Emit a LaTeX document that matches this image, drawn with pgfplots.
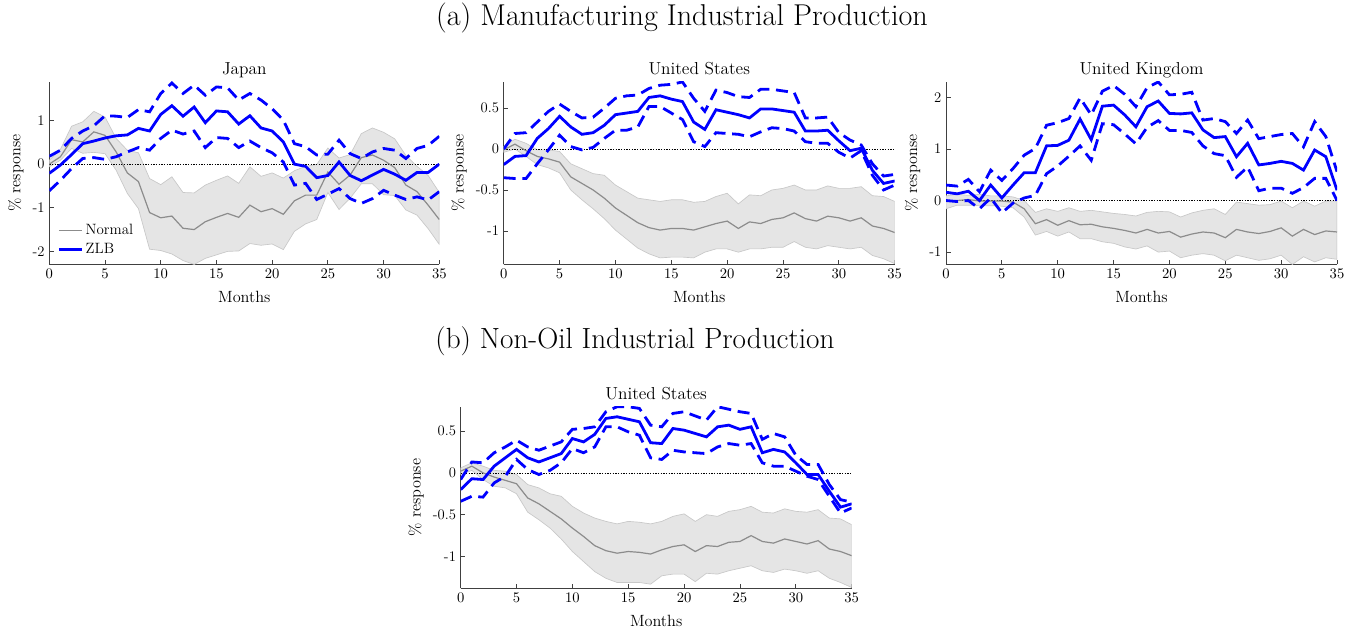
\documentclass[border=0pt]{standalone}
\usepackage{pgfplots}
\usepackage{pgfplotstable}
\pgfplotsset{compat=1.18}

\definecolor{zblue}{RGB}{0,0,255}
\definecolor{normgray}{RGB}{140,140,140}
\definecolor{bandfill}{RGB}{229,229,229}
\definecolor{bandedge}{RGB}{200,200,200}
\definecolor{axgray}{RGB}{64,64,64}

% columns: t, Normal mean, ZLB lower, ZLB mean, ZLB upper
\pgfplotstableread{
t nmid zlo zmid zhi
0 0.00 -0.61 -0.21 0.18
1 0.17 -0.37 -0.02 0.32
2 0.56 -0.10 0.22 0.59
3 0.51 0.13 0.47 0.76
4 0.74 0.15 0.53 0.88
5 0.66 0.11 0.60 1.11
6 0.28 0.17 0.65 1.10
7 -0.20 0.28 0.67 1.07
8 -0.40 0.38 0.82 1.25
9 -1.11 0.32 0.76 1.20
10 -1.23 0.59 1.14 1.62
11 -1.19 0.78 1.34 1.86
12 -1.47 0.69 1.10 1.62
13 -1.50 0.76 1.31 1.81
14 -1.32 0.38 0.95 1.58
15 -1.22 0.61 1.22 1.77
16 -1.13 0.59 1.20 1.75
17 -1.22 0.38 0.92 1.47
18 -0.94 0.53 1.11 1.62
19 -1.09 0.38 0.83 1.47
20 -1.02 0.26 0.76 1.27
21 -1.15 0.05 0.51 1.01
22 -0.84 -0.48 0.00 0.47
23 -0.71 -0.44 -0.05 0.40
24 -0.71 -0.81 -0.31 0.21
25 -0.18 -0.69 -0.26 0.23
26 -0.46 -0.56 0.05 0.55
27 -0.25 -0.79 -0.26 0.24
28 0.15 -0.90 -0.38 0.13
29 0.21 -0.79 -0.25 0.28
30 0.09 -0.60 -0.12 0.36
31 -0.08 -0.71 -0.23 0.32
32 -0.48 -0.81 -0.37 0.13
33 -0.63 -0.75 -0.19 0.36
34 -0.94 -0.82 -0.19 0.43
35 -1.27 -0.63 0.00 0.64
}\japan
% Normal band: upper edge 0..35, then lower edge 35..0
\pgfplotstableread[row sep=\\]{t y\\
0 0.09\\1 0.34\\2 0.87\\3 0.97\\4 1.21\\5 1.08\\6 0.59\\7 0.32\\8 0.26\\9 -0.33\\10 -0.47\\11 -0.29\\12 -0.65\\13 -0.66\\14 -0.48\\15 -0.37\\16 -0.27\\17 -0.44\\18 -0.06\\19 -0.28\\20 -0.20\\21 -0.32\\22 -0.15\\23 -0.05\\24 -0.01\\25 0.37\\26 0.14\\27 0.22\\28 0.70\\29 0.83\\30 0.73\\31 0.58\\32 0.20\\33 -0.05\\34 -0.26\\35 -0.65\\
35 -1.84\\34 -1.48\\33 -1.17\\32 -1.05\\31 -0.72\\30 -0.70\\29 -0.45\\28 -0.45\\27 -0.78\\26 -1.04\\25 -0.65\\24 -1.27\\23 -1.37\\22 -1.54\\21 -1.96\\20 -1.83\\19 -1.86\\18 -1.82\\17 -1.99\\16 -2.00\\15 -2.08\\14 -2.16\\13 -2.30\\12 -2.21\\11 -2.06\\10 -1.98\\9 -1.95\\8 -1.02\\7 -0.67\\6 -0.14\\5 0.24\\4 0.27\\3 0.25\\2 0.36\\1 0.09\\0 -0.06\\
}\japanband

\pgfplotstableread{
t nmid zlo zmid zhi
0 -0.01 -0.35 -0.19 0.00
1 0.06 -0.36 -0.09 0.19
2 -0.02 -0.36 -0.08 0.20
3 -0.09 -0.18 0.13 0.33
4 -0.12 -0.01 0.25 0.46
5 -0.16 0.17 0.40 0.55
6 -0.34 0.03 0.27 0.46
7 -0.42 -0.01 0.18 0.38
8 -0.50 0.02 0.20 0.39
9 -0.60 0.13 0.29 0.50
10 -0.72 0.23 0.42 0.62
11 -0.81 0.23 0.44 0.65
12 -0.90 0.27 0.46 0.66
13 -0.96 0.52 0.63 0.74
14 -0.99 0.52 0.65 0.78
15 -0.97 0.44 0.61 0.79
16 -0.97 0.36 0.58 0.82
17 -0.99 0.09 0.33 0.62
18 -0.95 0.03 0.24 0.46
19 -0.91 0.20 0.48 0.72
20 -0.88 0.19 0.45 0.69
21 -0.97 0.18 0.42 0.64
22 -0.89 0.15 0.38 0.63
23 -0.91 0.21 0.49 0.73
24 -0.86 0.26 0.49 0.73
25 -0.84 0.25 0.47 0.71
26 -0.78 0.22 0.45 0.69
27 -0.85 0.09 0.22 0.38
28 -0.88 0.07 0.22 0.38
29 -0.82 0.07 0.23 0.39
30 -0.84 -0.04 0.10 0.20
31 -0.88 -0.11 -0.02 0.11
32 -0.84 -0.02 0.01 0.05
33 -0.94 -0.32 -0.26 -0.18
34 -0.97 -0.50 -0.42 -0.33
35 -1.02 -0.44 -0.39 -0.31
}\usa
\pgfplotstableread[row sep=\\]{t y\\
0 0.03\\1 0.12\\2 0.07\\3 -0.01\\4 -0.01\\5 -0.03\\6 -0.18\\7 -0.24\\8 -0.30\\9 -0.32\\10 -0.44\\11 -0.52\\12 -0.60\\13 -0.62\\14 -0.64\\15 -0.62\\16 -0.62\\17 -0.65\\18 -0.64\\19 -0.58\\20 -0.54\\21 -0.67\\22 -0.56\\23 -0.57\\24 -0.50\\25 -0.48\\26 -0.44\\27 -0.50\\28 -0.50\\29 -0.45\\30 -0.48\\31 -0.48\\32 -0.46\\33 -0.57\\34 -0.58\\35 -0.64\\
35 -1.40\\34 -1.34\\33 -1.30\\32 -1.20\\31 -1.22\\30 -1.20\\29 -1.18\\28 -1.22\\27 -1.20\\26 -1.13\\25 -1.20\\24 -1.20\\23 -1.22\\22 -1.22\\21 -1.26\\20 -1.22\\19 -1.22\\18 -1.26\\17 -1.33\\16 -1.32\\15 -1.32\\14 -1.33\\13 -1.28\\12 -1.21\\11 -1.10\\10 -0.99\\9 -0.85\\8 -0.73\\7 -0.62\\6 -0.50\\5 -0.29\\4 -0.23\\3 -0.19\\2 -0.09\\1 0.00\\0 -0.04\\
}\usaband

\pgfplotstableread{
t nmid zlo zmid zhi
0 -0.01 0.00 0.16 0.30
1 0.00 -0.02 0.13 0.28
2 0.02 0.00 0.18 0.41
3 -0.01 -0.16 0.00 0.17
4 -0.01 0.05 0.30 0.59
5 -0.01 -0.24 0.05 0.39
6 -0.03 -0.05 0.30 0.62
7 -0.16 0.05 0.54 0.88
8 -0.45 0.10 0.54 1.01
9 -0.37 0.52 1.06 1.46
10 -0.48 0.67 1.07 1.51
11 -0.39 0.86 1.17 1.59
12 -0.47 1.06 1.58 1.99
13 -0.46 0.78 1.18 1.66
14 -0.51 1.49 1.83 2.12
15 -0.54 1.47 1.85 2.23
16 -0.58 1.29 1.66 2.06
17 -0.63 1.10 1.43 1.82
18 -0.56 1.42 1.82 2.19
19 -0.63 1.55 1.93 2.30
20 -0.60 1.36 1.69 2.05
21 -0.71 1.36 1.68 2.06
22 -0.65 1.32 1.70 2.10
23 -0.61 1.06 1.37 1.56
24 -0.63 0.91 1.22 1.59
25 -0.72 0.87 1.24 1.53
26 -0.56 0.45 0.85 1.30
27 -0.61 0.65 1.11 1.56
28 -0.64 0.19 0.69 1.20
29 -0.60 0.24 0.72 1.24
30 -0.53 0.24 0.76 1.28
31 -0.69 0.14 0.72 1.30
32 -0.56 0.25 0.59 1.04
33 -0.66 0.43 0.98 1.53
34 -0.59 0.43 0.85 1.24
35 -0.61 0.00 0.20 0.56
}\uk
\pgfplotstableread[row sep=\\]{t y\\
0 0.09\\1 0.12\\2 0.10\\3 0.12\\4 0.09\\5 0.09\\6 0.07\\7 0.00\\8 -0.23\\9 -0.16\\10 -0.21\\11 -0.14\\12 -0.21\\13 -0.19\\14 -0.22\\15 -0.25\\16 -0.27\\17 -0.30\\18 -0.23\\19 -0.21\\20 -0.22\\21 -0.32\\22 -0.24\\23 -0.19\\24 -0.16\\25 -0.27\\26 -0.03\\27 -0.06\\28 -0.09\\29 -0.08\\30 -0.01\\31 -0.14\\32 -0.01\\33 -0.11\\34 -0.01\\35 -0.01\\
35 -1.14\\34 -1.11\\33 -1.19\\32 -1.09\\31 -1.24\\30 -1.06\\29 -1.13\\28 -1.16\\27 -1.11\\26 -1.06\\25 -1.17\\24 -1.06\\23 -1.03\\22 -1.06\\21 -1.11\\20 -0.98\\19 -1.00\\18 -0.88\\17 -0.94\\16 -0.90\\15 -0.83\\14 -0.80\\13 -0.74\\12 -0.74\\11 -0.61\\10 -0.69\\9 -0.60\\8 -0.67\\7 -0.32\\6 -0.14\\5 -0.11\\4 -0.10\\3 -0.10\\2 -0.09\\1 -0.09\\0 -0.16\\
}\ukband

\pgfplotstableread{
t nmid zlo zmid zhi
0 0.02 -0.34 -0.20 -0.08
1 0.08 -0.28 -0.07 0.13
2 0.00 -0.29 -0.08 0.12
3 -0.05 -0.12 0.08 0.24
4 -0.09 -0.04 0.18 0.31
5 -0.13 0.16 0.28 0.39
6 -0.30 0.04 0.18 0.31
7 -0.37 -0.02 0.13 0.27
8 -0.46 0.03 0.18 0.32
9 -0.55 0.12 0.23 0.37
10 -0.66 0.29 0.41 0.52
11 -0.76 0.24 0.37 0.53
12 -0.87 0.31 0.46 0.55
13 -0.93 0.55 0.65 0.73
14 -0.96 0.55 0.67 0.79
15 -0.94 0.49 0.64 0.79
16 -0.95 0.45 0.61 0.77
17 -0.97 0.18 0.36 0.57
18 -0.92 0.16 0.35 0.55
19 -0.88 0.27 0.53 0.71
20 -0.86 0.25 0.51 0.73
21 -0.94 0.24 0.47 0.68
22 -0.87 0.23 0.43 0.63
23 -0.88 0.31 0.55 0.79
24 -0.83 0.35 0.57 0.76
25 -0.82 0.33 0.52 0.73
26 -0.75 0.35 0.55 0.71
27 -0.82 0.12 0.24 0.40
28 -0.84 0.08 0.28 0.47
29 -0.79 0.08 0.25 0.43
30 -0.82 0.02 0.12 0.21
31 -0.85 -0.04 -0.02 0.10
32 -0.81 -0.08 -0.02 0.10
33 -0.91 -0.28 -0.22 -0.14
34 -0.94 -0.48 -0.41 -0.32
35 -0.99 -0.42 -0.37 -0.35
}\nonoil
\pgfplotstableread[row sep=\\]{t y\\
0 0.06\\1 0.12\\2 0.08\\3 0.03\\4 0.02\\5 -0.02\\6 -0.14\\7 -0.18\\8 -0.25\\9 -0.28\\10 -0.40\\11 -0.48\\12 -0.54\\13 -0.58\\14 -0.61\\15 -0.58\\16 -0.59\\17 -0.61\\18 -0.58\\19 -0.52\\20 -0.49\\21 -0.58\\22 -0.50\\23 -0.52\\24 -0.46\\25 -0.44\\26 -0.40\\27 -0.47\\28 -0.48\\29 -0.43\\30 -0.46\\31 -0.47\\32 -0.44\\33 -0.54\\34 -0.55\\35 -0.62\\
35 -1.37\\34 -1.31\\33 -1.26\\32 -1.17\\31 -1.20\\30 -1.17\\29 -1.15\\28 -1.19\\27 -1.17\\26 -1.11\\25 -1.14\\24 -1.17\\23 -1.21\\22 -1.20\\21 -1.30\\20 -1.21\\19 -1.21\\18 -1.23\\17 -1.33\\16 -1.31\\15 -1.31\\14 -1.31\\13 -1.26\\12 -1.18\\11 -1.06\\10 -0.94\\9 -0.79\\8 -0.66\\7 -0.56\\6 -0.47\\5 -0.25\\4 -0.18\\3 -0.16\\2 -0.08\\1 0.03\\0 -0.02\\
}\nonoilband

\pgfplotsset{
  panel/.style={
    scale only axis, anchor=south west,
    width=293.25pt, height=136.9pt,
    xmin=0, xmax=35, xtick={0,5,...,35},
    axis x line*=bottom, axis y line*=left,
    axis line style={axgray, line width=0.6pt},
    tick align=inside, tick style={axgray, line width=0.6pt},
    major tick length=3.5pt,
    xlabel={Months}, ylabel={\% response},
    tick label style={font=\fontsize{11}{13}\selectfont},
    every axis title/.style={at={(0.5,1)}, anchor=base, yshift=5.6pt,
      font=\fontsize{13}{15}\selectfont},
    every axis x label/.style={at={(0.5,0)}, anchor=base, yshift=-28.8pt,
      font=\fontsize{12.2}{14}\selectfont},
    ylabel style={font=\fontsize{12.2}{14}\selectfont},
  },
}

\newcommand{\drawpanel}[2]{%
  \addplot[fill=bandfill, draw=bandedge, line width=0.5pt, forget plot] table[x=t,y=y]{#2} -- cycle;
  \addplot[black, line width=0.5pt, dash pattern=on 1pt off 1pt, forget plot] coordinates {(0,0) (35,0)};
  \addplot[normgray, line width=0.9pt] table[x=t,y=nmid]{#1};
  \addplot[zblue, line width=2.1pt] table[x=t,y=zmid]{#1};
  \addplot[zblue, line width=2.1pt, dash pattern=on 9pt off 5pt, forget plot] table[x=t,y=zhi]{#1};
  \addplot[zblue, line width=2.1pt, dash pattern=on 9pt off 5pt, forget plot] table[x=t,y=zlo]{#1};
}

\begin{document}
\begin{tikzpicture}
\useasboundingbox (0,0) rectangle (1022.25pt,474.75pt);

\node[font=\fontsize{22.6}{26}\selectfont] at (511.5pt,461pt) {(a) Manufacturing Industrial Production};
\node[font=\fontsize{21.9}{26}\selectfont] at (476.25pt,218.5pt) {(b) Non-Oil Industrial Production};

\begin{axis}[panel, at={(36.98pt,276.4pt)}, width=292.5pt,
  title={Japan}, ymin=-2.30, ymax=1.885, ytick={-2,-1,0,1}, yticklabels={-2,-1,0,1},
  legend entries={Normal, ZLB}, legend cell align=left,
  legend style={draw=none, fill=none, at={(0.01,0.02)}, anchor=south west,
    font=\fontsize{11.2}{13}\selectfont, row sep=1pt}]
\drawpanel{\japan}{\japanband}
\end{axis}

\begin{axis}[panel, at={(377.8pt,276.4pt)},
  title={United States}, ymin=-1.41, ymax=0.82, ytick={-1,-0.5,0,0.5}, yticklabels={-1,-0.5,0,0.5}]
\drawpanel{\usa}{\usaband}
\end{axis}

\begin{axis}[panel, at={(709.5pt,276.4pt)},
  title={United Kingdom}, ymin=-1.24, ymax=2.30, ytick={-1,0,1,2}, yticklabels={-1,0,1,2}]
\drawpanel{\uk}{\ukband}
\end{axis}

\begin{axis}[panel, at={(345.5pt,33.5pt)}, height=136.2pt,
  title={United States}, ymin=-1.38, ymax=0.79, ytick={-1,-0.5,0,0.5}, yticklabels={-1,-0.5,0,0.5}]
\drawpanel{\nonoil}{\nonoilband}
\end{axis}
\end{tikzpicture}
\end{document}
